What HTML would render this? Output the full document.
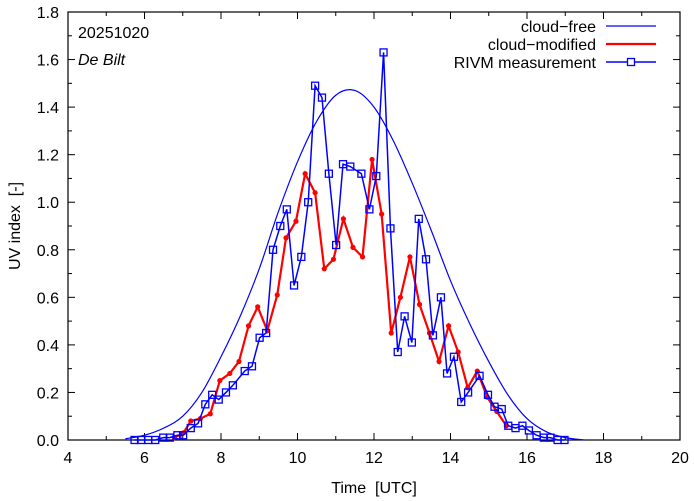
<!DOCTYPE html>
<html><head><meta charset="utf-8"><style>
body{margin:0;background:#fff}
svg{display:block;font-family:"Liberation Sans",sans-serif}
</style></head><body>
<svg id="chart" width="694" height="501" viewBox="0 0 694 501"></svg>
<script>
const clearTimes=[5.5,6,6.5,7,7.5,8,8.5,9,9.5,10,10.5,11,11.5,12,12.5,13,13.5,14,14.5,15,15.5,16,16.5,17,17.5];
const clearValues=[0.005,0.02,0.05,0.10,0.20,0.35,0.52,0.72,0.96,1.17,1.34,1.45,1.47,1.40,1.26,1.08,0.88,0.67,0.49,0.33,0.19,0.09,0.035,0.01,0];
const modTimes=[6.78,7.02,7.21,7.46,7.72,7.97,8.23,8.47,8.72,8.96,9.21,9.47,9.70,9.96,10.20,10.46,10.70,10.94,11.20,11.45,11.70,11.95,12.20,12.45,12.69,12.94,13.19,13.45,13.70,13.95,14.20,14.45,14.70,14.96,15.21,15.46];
const modValues=[0.01,0.03,0.08,0.09,0.11,0.25,0.28,0.33,0.48,0.56,0.46,0.61,0.85,0.92,1.12,1.04,0.72,0.76,0.93,0.81,0.77,1.18,0.95,0.45,0.60,0.77,0.57,0.45,0.33,0.48,0.37,0.22,0.29,0.18,0.12,0.06];
const measTimes=[5.74,5.91,6.10,6.28,6.49,6.66,6.86,7.01,7.21,7.40,7.59,7.77,7.94,8.13,8.31,8.62,8.81,9.01,9.18,9.36,9.55,9.72,9.91,10.10,10.28,10.46,10.64,10.82,11.01,11.19,11.38,11.67,11.88,12.06,12.25,12.43,12.62,12.80,12.99,13.17,13.36,13.54,13.75,13.91,14.09,14.28,14.46,14.76,14.98,15.15,15.34,15.51,15.70,15.88,16.05,16.25,16.44,16.61,16.80,16.98];
const measValues=[0,0,0,0,0.01,0.01,0.02,0.02,0.05,0.07,0.15,0.19,0.17,0.20,0.23,0.29,0.31,0.43,0.45,0.80,0.90,0.97,0.65,0.77,1.00,1.49,1.44,1.12,0.82,1.16,1.15,1.12,0.97,1.11,1.63,0.89,0.37,0.52,0.41,0.93,0.76,0.44,0.60,0.28,0.35,0.16,0.20,0.27,0.19,0.14,0.13,0.06,0.05,0.06,0.04,0.02,0.01,0.01,0,0];
const xTicks=[4,6,8,10,12,14,16,18,20];
const yTicks=[0,0.2,0.4,0.6,0.8,1.0,1.2,1.4,1.6,1.8];

const L=68,R=680,T=12,B=440;
const xs=t=>L+(t-4)/16*(R-L);
const ys=v=>B-v/1.8*(B-T);
const svg=document.getElementById('chart');
const NS='http://www.w3.org/2000/svg';
function mk(tag,attrs,parent){const e=document.createElementNS(NS,tag);for(const k in attrs)e.setAttribute(k,attrs[k]);(parent||svg).appendChild(e);return e;}

xTicks.forEach((t,i)=>{
  const g=mk('g',{});
  
  
  const x=xs(t);
  mk('line',{x1:x,y1:B,x2:x,y2:B-7,stroke:'#000'},g);
  mk('line',{x1:x,y1:T,x2:x,y2:T+7,stroke:'#000'},g);
  if(i<xTicks.length-1){const xm=xs(t+1);
    mk('line',{x1:xm,y1:B,x2:xm,y2:B-4,stroke:'#000'},g);
    mk('line',{x1:xm,y1:T,x2:xm,y2:T+4,stroke:'#000'},g);}
  const tx=mk('text',{x:x,y:B+23,'text-anchor':'middle','font-size':16},g);tx.textContent=t;
});
yTicks.forEach((v,i)=>{
  const g=mk('g',{});
  
  
  const y=ys(v);
  mk('line',{x1:L,y1:y,x2:L+7,y2:y,stroke:'#000'},g);
  mk('line',{x1:R,y1:y,x2:R-7,y2:y,stroke:'#000'},g);
  if(i<yTicks.length-1){const ym=ys(v+0.1);
    mk('line',{x1:L,y1:ym,x2:L+4,y2:ym,stroke:'#000'},g);
    mk('line',{x1:R,y1:ym,x2:R-4,y2:ym,stroke:'#000'},g);}
  const tx=mk('text',{x:L-9,y:y+6,'text-anchor':'end','font-size':16},g);tx.textContent=v.toFixed(1);
});
const frame=mk('rect',{x:L,y:T,width:R-L,height:B-T,fill:'none',stroke:'#000','stroke-width':1.2});



const cp=clearTimes.map((t,i)=>[xs(t),ys(clearValues[i])]);
let d='M'+cp[0][0]+','+cp[0][1];
for(let i=0;i<cp.length-1;i++){
  const p0=cp[Math.max(i-1,0)],p1=cp[i],p2=cp[i+1],p3=cp[Math.min(i+2,cp.length-1)];
  d+=' C'+(p1[0]+(p2[0]-p0[0])/6)+','+(p1[1]+(p2[1]-p0[1])/6)+' '+(p2[0]-(p3[0]-p1[0])/6)+','+(p2[1]-(p3[1]-p1[1])/6)+' '+p2[0]+','+p2[1];
}
const clr=mk('path',{d:d,fill:'none',stroke:'#0000ff','stroke-width':1.2});



const mp=modTimes.map((t,i)=>xs(t)+','+ys(modValues[i])).join(' ');
const ml=mk('polyline',{points:mp,fill:'none',stroke:'#ff0000','stroke-width':2.2});


modTimes.forEach((t,i)=>{
  const c=mk('circle',{cx:xs(t),cy:ys(modValues[i]),r:2.6,fill:'#ff0000'});
  
  
});

const bp=measTimes.map((t,i)=>xs(t)+','+ys(measValues[i])).join(' ');
const bl=mk('polyline',{points:bp,fill:'none',stroke:'#0000ff','stroke-width':1.5});


measTimes.forEach((t,i)=>{
  const s=mk('rect',{x:xs(t)-3.5,y:ys(measValues[i])-3.5,width:7,height:7,fill:'none',stroke:'#0000ff','stroke-width':1.3});
  
  
});

const lg=mk('g',{});


[['cloud\u2212free','#0000ff',1.2,26],['cloud\u2212modified','#ff0000',2.2,44],['RIVM measurement','#0000ff',1.5,62]].forEach((e,i)=>{
  const g=mk('g',{},lg);
  
  
  const tx=mk('text',{x:596,y:e[3]+6,'text-anchor':'end','font-size':16},g);tx.textContent=e[0];
  mk('line',{x1:606,y1:e[3],x2:656,y2:e[3],stroke:e[1],'stroke-width':e[2]},g);
  if(i==2)mk('rect',{x:627.5,y:e[3]-3.5,width:7,height:7,fill:'#fff',stroke:'#0000ff','stroke-width':1.3},g);
});

const a1=mk('text',{x:78,y:38,'font-size':16});a1.textContent='20251020';

const a2=mk('text',{x:78,y:65,'font-size':16,'font-style':'italic'});a2.textContent='De Bilt';

const xt=mk('text',{x:374,y:493,'text-anchor':'middle','font-size':16});xt.textContent='Time  [UTC]';

xt.style.whiteSpace='pre';
const yt=mk('text',{x:0,y:0,'text-anchor':'middle','font-size':16,transform:'translate(20,226) rotate(-90)'});yt.textContent='UV index  [-]';

yt.style.whiteSpace='pre';
</script>
</body></html>
